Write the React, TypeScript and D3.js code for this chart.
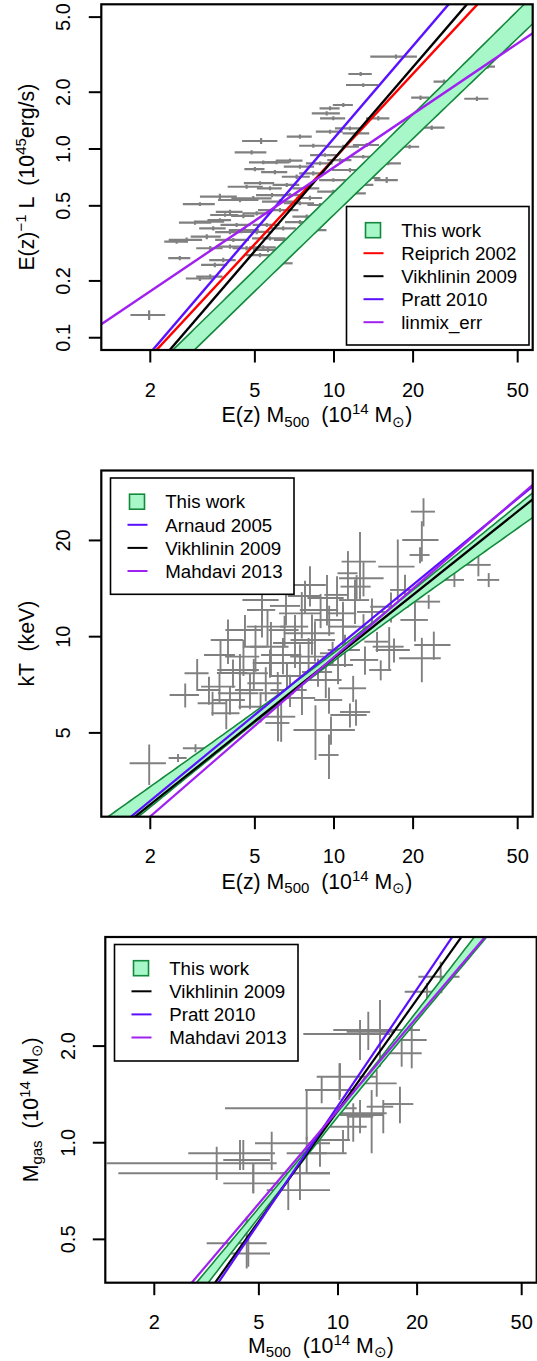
import React from "react";
import * as d3 from "d3";

// ---------- shared x axis ----------
const massDomain = [1.302, 57.03];
const massTicks = [2, 5, 10, 20, 50];
const massTickLabels = ["2", "5", "10", "20", "50"];

// ---------- Panel 1 : L - M ----------
const lmMass = [17.21, 12.63, 12.92, 10.85, 9.66, 9.38, 9.94, 14.74, 11.5, 7.42, 5.28, 9.66, 12.2, 10.85, 8.34, 4.86, 16.09, 5.38, 6.05, 6.8, 5.0, 7.42, 8.85, 11.5, 15.87, 8.34, 7.21, 9.94, 6.61, 4.65, 5.71, 7.87, 9.94, 11.84, 3.68, 4.93, 4.39, 6.23, 7.42, 3.09, 4.02, 4.52, 5.08, 6.23, 7.87, 2.96, 3.38, 3.68, 4.26, 3.47, 5.55, 6.41, 5.08, 3.28, 2.75, 2.52, 4.14, 5.71, 3.38, 4.02, 4.65, 5.38, 2.59, 3.79, 5.23, 6.23, 3.09, 3.38, 1.98, 38.45, 34.99, 21.34, 23.54, 26.22, 19.4, 12.78, 13.32, 12.92, 13.71, 6.8, 8.1, 8.85, 7.42, 5.96, 9.24, 10.54, 8.47, 5.23, 4.02, 3.85, 5.61, 6.8, 3.52, 4.58, 5.81];
const lmMassErr = [3.47, 1.29, 1.81, 0.95, 0.85, 1.15, 1.09, 1.51, 1.41, 0.81, 0.81, 1.13, 1.42, 1.59, 0.97, 0.67, 1.88, 0.63, 0.71, 0.79, 0.44, 0.98, 1.03, 1.68, 1.63, 0.97, 0.88, 1.16, 0.77, 0.71, 0.62, 0.92, 1.31, 1.38, 0.59, 0.86, 0.77, 0.91, 0.98, 0.43, 0.47, 0.46, 0.59, 1.09, 0.92, 0.39, 0.44, 0.38, 0.56, 0.4, 0.65, 0.75, 0.74, 0.43, 0.4, 0.26, 0.61, 0.83, 0.39, 0.47, 0.54, 0.63, 0.25, 0.44, 0.61, 0.73, 0.36, 0.39, 0.3, 2.53, 3.68, 1.68, 2.81, 2.3, 1.7, 1.34, 1.52, 1.36, 1.3, 0.83, 0.92, 0.93, 0.91, 0.68, 1.13, 1.11, 0.89, 0.69, 0.49, 0.47, 0.69, 0.89, 0.4, 0.6, 0.76];
const lmLum = [3.084, 2.497, 2.184, 1.711, 1.643, 1.546, 1.455, 1.455, 1.287, 1.162, 1.103, 1.235, 1.211, 1.028, 1.041, 0.96, 0.84, 0.85, 0.85, 0.867, 0.783, 0.806, 0.84, 0.774, 0.685, 0.743, 0.713, 0.685, 0.645, 0.631, 0.619, 0.619, 0.594, 0.582, 0.559, 0.548, 0.537, 0.526, 0.516, 0.511, 0.465, 0.442, 0.456, 0.475, 0.438, 0.407, 0.412, 0.42, 0.396, 0.38, 0.396, 0.38, 0.364, 0.343, 0.33, 0.323, 0.33, 0.336, 0.298, 0.304, 0.298, 0.301, 0.264, 0.258, 0.274, 0.248, 0.206, 0.211, 0.132, 2.73, 1.847, 1.87, 1.297, 2.273, 1.028, 0.645, 1.05, 0.91, 0.702, 0.57, 0.55, 0.505, 0.41, 0.755, 0.929, 0.874, 0.372, 0.66, 0.363, 0.447, 0.292, 0.33, 0.243, 0.372, 0.57];
const lmLumErr = [0.08, 0.06, 0.05, 0.04, 0.04, 0.04, 0.035, 0.04, 0.03, 0.03, 0.04, 0.03, 0.03, 0.025, 0.025, 0.025, 0.02, 0.02, 0.02, 0.02, 0.02, 0.02, 0.02, 0.02, 0.025, 0.02, 0.02, 0.015, 0.015, 0.015, 0.015, 0.015, 0.015, 0.015, 0.02, 0.015, 0.015, 0.015, 0.012, 0.012, 0.012, 0.012, 0.012, 0.012, 0.012, 0.01, 0.01, 0.01, 0.01, 0.01, 0.01, 0.01, 0.01, 0.01, 0.01, 0.008, 0.008, 0.008, 0.008, 0.008, 0.008, 0.008, 0.007, 0.007, 0.007, 0.007, 0.006, 0.006, 0.008, 0.07, 0.05, 0.05, 0.035, 0.06, 0.025, 0.015, 0.025, 0.02, 0.02, 0.015, 0.015, 0.012, 0.01, 0.02, 0.02, 0.02, 0.01, 0.015, 0.01, 0.01, 0.008, 0.008, 0.007, 0.01, 0.015];
const lmDomain = [0.0861, 5.846];
const lmTicks = [0.1, 0.2, 0.5, 1, 2, 5];
const lmTickLabels = ["0.1", "0.2", "0.5", "1.0", "2.0", "5.0"];
const lmRelNames = ["Reiprich 2002", "Vikhlinin 2009", "Pratt 2010", "linmix_err"];
const lmRelNorms = [0.887, 0.886, 1.141, 0.8];
const lmRelSlopes = [1.5, 1.62, 1.627, 0.94];
const lmBandFit = { pivot: 2.5, norm: 0.0785, slope: 1.357, sNorm: 0.0556, sSlope: 0.0362 };

// ---------- Panel 2 : kT - M ----------
const mtMass = [1.981, 2.716, 3.016, 3.7, 2.55, 2.972, 9.741, 8.502, 6.122, 11.83, 15.06, 21.59, 23.98, 16.22, 20.33, 22.93, 28.72, 38.79, 35.44, 21.91, 21.59, 21.25, 17.49, 12.56, 12.95, 12.19, 11.3, 16.48, 14.58, 16.92, 8.892, 7.542, 6.486, 7.106, 5.757, 5.027, 4.387, 4.953, 5.501, 4.387, 6.111, 9.307, 8.006, 10.82, 9.588, 10.82, 8.246, 7.106, 5.585, 4.524, 3.667, 3.451, 3.892, 5.256, 6.296, 9.572, 9.878, 12.95, 6.568, 7.757, 9.406, 5.321, 7.424, 8.694, 4.791, 6.625, 11.01, 10.27, 5.706, 4.128, 12.13, 7.554, 3.951, 3.344, 9.572, 13.95, 18.63, 11.5, 5.321, 6.396, 8.465, 10.36, 12.02, 4.584, 8.103, 6.803, 4.02, 13.12];
const mtMassErr = [0.312, 0.347, 0.317, 0.499, 0.201, 0.312, 2.27, 1.49, 0.644, 1.42, 1.451, 3.897, 3.782, 2.189, 2.44, 2.411, 2.516, 3.739, 4.037, 2.304, 3.405, 1.862, 2.758, 1.871, 2.496, 1.602, 0.99, 2.744, 1.533, 2.52, 1.48, 1.361, 0.852, 1.245, 0.958, 0.529, 0.792, 0.651, 0.819, 0.769, 0.91, 1.386, 1.193, 1.327, 1.176, 1.327, 1.806, 0.872, 0.93, 0.674, 0.546, 0.423, 0.477, 0.921, 0.827, 1.174, 1.039, 2.042, 0.863, 1.087, 1.483, 0.653, 1.171, 1.143, 0.588, 0.929, 1.543, 1.08, 0.8, 0.543, 1.594, 0.927, 0.554, 0.352, 0.839, 1.711, 2.285, 1.814, 0.839, 1.121, 1.632, 1.452, 1.58, 0.723, 1.207, 1.073, 0.564, 1.609];
const mtTemp = [4.017, 6.571, 7.684, 8.764, 4.173, 4.475, 5.107, 5.107, 5.37, 6.895, 7.866, 8.558, 9.419, 9.304, 11.28, 12.87, 15.05, 15.05, 16.77, 24.61, 20.07, 18.01, 16.56, 17.17, 15.23, 14.34, 15.79, 12.41, 9.646, 9.087, 12.12, 11.83, 10.49, 9.557, 9.304, 9.304, 7.866, 7.684, 7.149, 6.651, 6.651, 7.32, 8.658, 10.75, 11.28, 11.83, 10.25, 10.75, 10.75, 8.658, 6.977, 6.188, 5.757, 6.039, 5.618, 6.337, 8.873, 10.75, 12.48, 13.41, 13.21, 12.12, 8.274, 7.753, 6.811, 7.535, 9.087, 13.51, 8.274, 7.7, 5.812, 6.43, 9.765, 6.811, 4.264, 11.95, 14.0, 5.689, 13.02, 8.764, 9.765, 8.153, 13.02, 10.49, 14.51, 6.811, 6.337, 8.455];
const mtTempErr = [0.579, 0.568, 0.83, 1.073, 0.12, 0.129, 0.515, 0.993, 0.658, 0.646, 0.567, 1.357, 0.95, 1.408, 1.625, 0.649, 0.759, 0.759, 1.329, 2.482, 2.892, 1.038, 3.579, 4.082, 1.865, 1.24, 2.73, 1.341, 0.695, 0.786, 1.485, 1.96, 1.134, 1.584, 1.81, 1.542, 0.963, 0.83, 0.876, 0.719, 1.102, 0.897, 1.248, 1.781, 1.219, 1.023, 1.477, 0.929, 1.394, 1.123, 0.754, 0.535, 0.622, 0.653, 0.931, 0.594, 0.767, 1.007, 1.619, 1.546, 2.379, 2.183, 1.192, 0.782, 0.883, 0.76, 1.048, 1.947, 0.835, 0.777, 0.544, 0.741, 1.548, 0.687, 0.676, 1.205, 1.614, 0.492, 1.876, 1.137, 1.407, 1.057, 2.064, 1.209, 2.091, 0.785, 0.639, 0.853];
const mtDomain = [2.734, 33.1];
const mtTicks = [5, 10, 20];
const mtTickLabels = ["5", "10", "20"];
const mtRelNames = ["Arnaud 2005", "Vikhlinin 2009", "Mahdavi 2013"];
const mtRelNorms = [9.1, 8.58, 8.63];
const mtRelSlopes = [0.676, 0.656, 0.713];
const mtBandFit = { pivot: 8.91, norm: 8.05, slope: 0.627, sNorm: 0.0125, sSlope: 0.0453 };

// ---------- Panel 3 : Mgas - M ----------
const gmMass = [24.59, 21.81, 14.45, 13.04, 12.13, 19.08, 17.47, 10.18, 8.668, 14.04, 7.601, 17.21, 13.43, 11.43, 10.94, 4.238, 3.455, 4.761, 5.595, 7.601, 7.167, 8.541, 6.469, 4.761, 4.362, 4.494, 4.558, 10.45, 14.87, 10.13, 12.13];
const gmMassLo = [20.22, 17.94, 9.596, 10.79, 7.379, 16.23, 15.32, 8.298, 7.489, 12.13, 3.715, 14.87, 9.596, 10.18, 9.324, 2.694, 1.318, 1.459, 4.833, 6.379, 6.015, 7.601, 5.354, 3.661, 3.661, 3.165, 3.882, 8.467, 12.86, 8.467, 10.79];
const gmMassHi = [29.0, 24.96, 20.51, 16.48, 15.77, 21.75, 20.82, 14.04, 10.63, 16.72, 11.78, 19.34, 15.32, 14.87, 12.86, 5.757, 5.843, 9.324, 9.324, 9.058, 9.324, 10.79, 9.324, 6.015, 5.511, 5.354, 5.511, 11.11, 16.23, 11.78, 13.62];
const gmGas = [3.289, 2.954, 2.244, 2.217, 2.181, 2.089, 1.899, 1.605, 1.459, 1.531, 1.28, 1.32, 1.235, 1.22, 1.122, 0.927, 0.863, 0.803, 0.996, 0.927, 0.803, 0.927, 0.712, 0.747, 0.883, 0.486, 0.452, 1.02, 1.295, 1.459, 1.205];
const gmGasLo = [2.92, 2.783, 1.725, 1.944, 1.81, 1.705, 1.725, 1.391, 1.327, 1.391, 1.02, 1.149, 0.927, 1.007, 1.02, 0.822, 0.765, 0.696, 0.822, 0.803, 0.663, 0.842, 0.617, 0.696, 0.822, 0.406, 0.411, 0.927, 1.07, 1.359, 1.07];
const gmGasHi = [3.664, 3.145, 2.783, 2.559, 2.411, 2.382, 2.089, 1.768, 1.605, 1.684, 1.459, 1.494, 1.459, 1.327, 1.235, 1.02, 0.972, 0.863, 1.082, 1.044, 0.883, 1.044, 0.803, 0.863, 1.02, 0.588, 0.51, 1.095, 1.359, 1.768, 1.359];
const gmDomain = [0.3664, 4.374];
const gmTicks = [0.5, 1, 2];
const gmTickLabels = ["0.5", "1.0", "2.0"];
const gmRelNames = ["Vikhlinin 2009", "Pratt 2010", "Mahdavi 2013"];
const gmRelNorms = [1.263, 1.303, 1.262];
const gmRelSlopes = [1.149, 1.21, 0.965];
const gmBandFit = { pivot: 10, norm: 1.228, slope: 1.019, sNorm: 0.0078, sSlope: 0.0416 };

// ---------- styling ----------
const FONT = "'Liberation Sans', Arial, Helvetica, sans-serif";
const LEG_FS = 18.7;
const TICK_FS = 20;
const TITLE_FS = 21.3;
const SMALL_FS = 15;
const BAND_FILL = "#a8f7c8";
const BAND_EDGE = "#13893d";
const GRAY = "#808080";
const relColor: Record<string, string> = {
  "Reiprich 2002": "#ff0000",
  "Vikhlinin 2009": "#000000",
  "Pratt 2010": "#5a10ff",
  "Arnaud 2005": "#5a10ff",
  "linmix_err": "#a020f0",
  "Mahdavi 2013": "#a020f0",
};

type Pt = { x: number; x0: number; x1: number; y: number; y0: number; y1: number };
type Rel = { name: string; norm: number; slope: number };
type BandFit = { pivot: number; norm: number; slope: number; sNorm: number; sSlope: number };
type Seg = [string, "n" | "sup" | "sub"];

function symPts(x: number[], dx: number[], y: number[], dy: number[]): Pt[] {
  return x.map((v, i) => ({ x: v, x0: v - dx[i], x1: v + dx[i], y: y[i], y0: y[i] - dy[i], y1: y[i] + dy[i] }));
}
function asymPts(x: number[], xl: number[], xh: number[], y: number[], yl: number[], yh: number[]): Pt[] {
  return x.map((v, i) => ({ x: v, x0: xl[i], x1: xh[i], y: y[i], y0: yl[i], y1: yh[i] }));
}
function rels(names: string[], norms: number[], slopes: number[]): Rel[] {
  return names.map((n, i) => ({ name: n, norm: norms[i], slope: slopes[i] }));
}

const SHIFT = { n: 0, sup: -8, sub: 4.5 };
function rich(segs: Seg[]) {
  let prev = 0;
  return segs.map(([t, k], i) => {
    const s = SHIFT[k];
    const dy = s - prev;
    prev = s;
    return (
      <tspan key={i} dy={dy} fontSize={k === "n" ? TITLE_FS : SMALL_FS}>
        {t}
      </tspan>
    );
  });
}

type PanelProps = {
  id: string;
  frame: { l: number; r: number; t: number; b: number };
  yDomain: number[];
  yTicks: number[];
  yTickLabels: string[];
  pts: Pt[];
  band: BandFit;
  rels: Rel[];
  legend: { x: number; y: number; w: number; h: number; dy: number };
  xTitle: Seg[];
  yTitle: Seg[];
  errW: number;
  lineW: number;
  yLabelX: number;
  yTitleX: number;
  xTitleOffset: number;
};

function Panel(p: PanelProps) {
  const { frame, yDomain, band } = p;
  const x = d3.scaleLog().domain(massDomain).range([frame.l, frame.r]);
  const y = d3.scaleLog().domain(yDomain).range([frame.b, frame.t]);
  const lx0 = Math.log10(massDomain[0]);
  const lx1 = Math.log10(massDomain[1]);
  const bandPts = d3.range(0, 121).map((i) => {
    const lx = lx0 + ((lx1 - lx0) * i) / 120;
    const d = lx - Math.log10(band.pivot);
    const c = Math.log10(band.norm) + band.slope * d;
    const w = Math.sqrt(band.sNorm * band.sNorm + band.sSlope * band.sSlope * d * d);
    return { m: Math.pow(10, lx), lo: Math.pow(10, c - w), hi: Math.pow(10, c + w) };
  });
  const area = d3
    .area<any>()
    .x((d) => x(d.m))
    .y0((d) => y(d.lo))
    .y1((d) => y(d.hi));
  const upper = d3.line<any>().x((d) => x(d.m)).y((d) => y(d.hi));
  const lower = d3.line<any>().x((d) => x(d.m)).y((d) => y(d.lo));
  const relPath = (r: Rel) =>
    d3.line()(
      massDomain.map((m) => [x(m), y(r.norm * Math.pow(m / 10, r.slope))] as [number, number])
    ) || "";
  const clipId = `clip-${p.id}`;
  const cx = (frame.l + frame.r) / 2;
  const cy = (frame.t + frame.b) / 2;
  const lg = p.legend;
  const rowY = (i: number) => lg.y + 23.7 + lg.dy * i;
  return (
    <g>
      <defs>
        <clipPath id={clipId}>
          <rect x={frame.l} y={frame.t} width={frame.r - frame.l} height={frame.b - frame.t} />
        </clipPath>
      </defs>
      <g clipPath={`url(#${clipId})`}>
        <g stroke={GRAY} strokeWidth={p.errW}>
          {p.pts.map((d, i) => (
            <g key={i}>
              <line x1={x(Math.max(d.x0, 0.01))} x2={x(d.x1)} y1={y(d.y)} y2={y(d.y)} />
              <line x1={x(d.x)} x2={x(d.x)} y1={y(Math.max(d.y0, 0.001))} y2={y(d.y1)} />
            </g>
          ))}
        </g>
        <path d={area(bandPts) || ""} fill={BAND_FILL} stroke="none" />
        <path d={upper(bandPts) || ""} fill="none" stroke={BAND_EDGE} strokeWidth={1.6} />
        <path d={lower(bandPts) || ""} fill="none" stroke={BAND_EDGE} strokeWidth={1.6} />
        {p.rels.map((r) => (
          <path key={r.name} d={relPath(r)} fill="none" stroke={relColor[r.name]} strokeWidth={p.lineW} />
        ))}
      </g>
      <rect x={frame.l} y={frame.t} width={frame.r - frame.l} height={frame.b - frame.t} fill="none" stroke="#000" strokeWidth={2.2} />
      <g stroke="#000" strokeWidth={2}>
        {massTicks.map((t) => (
          <line key={t} x1={x(t)} x2={x(t)} y1={frame.b} y2={frame.b + 12.5} />
        ))}
        {p.yTicks.map((t) => (
          <line key={t} x1={frame.l} x2={frame.l - 12.5} y1={y(t)} y2={y(t)} />
        ))}
      </g>
      <g fill="#000">
        {massTicks.map((t, i) => (
          <text key={t} x={x(t)} y={frame.b + 46.7} textAnchor="middle" fontSize={TICK_FS}>
            {massTickLabels[i]}
          </text>
        ))}
        {p.yTicks.map((t, i) => (
          <text key={t} transform={`translate(${p.yLabelX},${y(t)}) rotate(-90)`} textAnchor="middle" fontSize={TICK_FS}>
            {p.yTickLabels[i]}
          </text>
        ))}
        <text x={cx} y={frame.b + p.xTitleOffset} textAnchor="middle" fontSize={TITLE_FS} style={{ whiteSpace: "pre" }}>
          {rich(p.xTitle)}
        </text>
        <text transform={`translate(${p.yTitleX},${cy}) rotate(-90)`} textAnchor="middle" fontSize={TITLE_FS} style={{ whiteSpace: "pre" }}>
          {rich(p.yTitle)}
        </text>
      </g>
      <g>
        <rect x={lg.x} y={lg.y} width={lg.w} height={lg.h} fill="#fff" stroke="#000" strokeWidth={1.6} />
        <rect x={lg.x + 19} y={rowY(0) - 7.5} width={15} height={15} fill={BAND_FILL} stroke={BAND_EDGE} strokeWidth={1.6} />
        <text x={lg.x + 54.7} y={rowY(0) + 6.7} fontSize={LEG_FS}>
          This work
        </text>
        {p.rels.map((r, i) => (
          <g key={r.name}>
            <line x1={lg.x + 17} x2={lg.x + 37} y1={rowY(i + 1)} y2={rowY(i + 1)} stroke={relColor[r.name]} strokeWidth={2} />
            <text x={lg.x + 54.7} y={rowY(i + 1) + 6.7} fontSize={LEG_FS}>
              {r.name}
            </text>
          </g>
        ))}
      </g>
    </g>
  );
}

const ezMassTitle: Seg[] = [["E(z) M", "n"], ["500", "sub"], ["  (10", "n"], ["14", "sup"], [" M", "n"], ["\u2299", "sub"], [")", "n"]];
const massTitle: Seg[] = [["M", "n"], ["500", "sub"], ["  (10", "n"], ["14", "sup"], [" M", "n"], ["\u2299", "sub"], [")", "n"]];
const lumTitle: Seg[] = [["E(z)", "n"], ["\u22121", "sup"], [" L  (10", "n"], ["45", "sup"], ["erg/s)", "n"]];
const tempTitle: Seg[] = [["kT  (keV)", "n"]];
const gasTitle: Seg[] = [["M", "n"], ["gas", "sub"], ["  (10", "n"], ["14", "sup"], [" M", "n"], ["\u2299", "sub"], [")", "n"]];

export default function App() {
  return (
    <svg
      width={537}
      height={1361}
      viewBox="0 0 537 1361"
      style={{ position: "absolute", left: 0, top: 0, background: "#fff" }}
      fontFamily={FONT}
    >
      <rect x={0} y={0} width={537} height={1361} fill="#fff" />
      <Panel
        id="lm"
        frame={{ l: 101.3, r: 532.7, t: 4.3, b: 350 }}
        yDomain={lmDomain}
        yTicks={lmTicks}
        yTickLabels={lmTickLabels}
        pts={symPts(lmMass, lmMassErr, lmLum, lmLumErr)}
        band={lmBandFit}
        rels={rels(lmRelNames, lmRelNorms, lmRelSlopes)}
        legend={{ x: 346.5, y: 206.5, w: 182.5, h: 138.5, dy: 23 }}
        xTitle={ezMassTitle}
        yTitle={lumTitle}
        errW={2.2}
        lineW={2.4}
        yLabelX={70}
        yTitleX={33.5}
        xTitleOffset={72}
      />
      <Panel
        id="mt"
        frame={{ l: 101.3, r: 532.7, t: 470.5, b: 816.7 }}
        yDomain={mtDomain}
        yTicks={mtTicks}
        yTickLabels={mtTickLabels}
        pts={symPts(mtMass, mtMassErr, mtTemp, mtTempErr)}
        band={mtBandFit}
        rels={rels(mtRelNames, mtRelNorms, mtRelSlopes)}
        legend={{ x: 110.5, y: 478, w: 183.5, h: 116.3, dy: 23.1 }}
        xTitle={ezMassTitle}
        yTitle={tempTitle}
        errW={1.9}
        lineW={2.2}
        yLabelX={70}
        yTitleX={33.5}
        xTitleOffset={72}
      />
      <Panel
        id="gm"
        frame={{ l: 105.3, r: 536.7, t: 937, b: 1282.7 }}
        yDomain={gmDomain}
        yTicks={gmTicks}
        yTickLabels={gmTickLabels}
        pts={asymPts(gmMass, gmMassLo, gmMassHi, gmGas, gmGasLo, gmGasHi)}
        band={gmBandFit}
        rels={rels(gmRelNames, gmRelNorms, gmRelSlopes)}
        legend={{ x: 114.5, y: 944.5, w: 183.5, h: 116.5, dy: 23.1 }}
        xTitle={massTitle}
        yTitle={gasTitle}
        errW={1.9}
        lineW={2.2}
        yLabelX={74.5}
        yTitleX={37.5}
        xTitleOffset={70}
      />
    </svg>
  );
}
